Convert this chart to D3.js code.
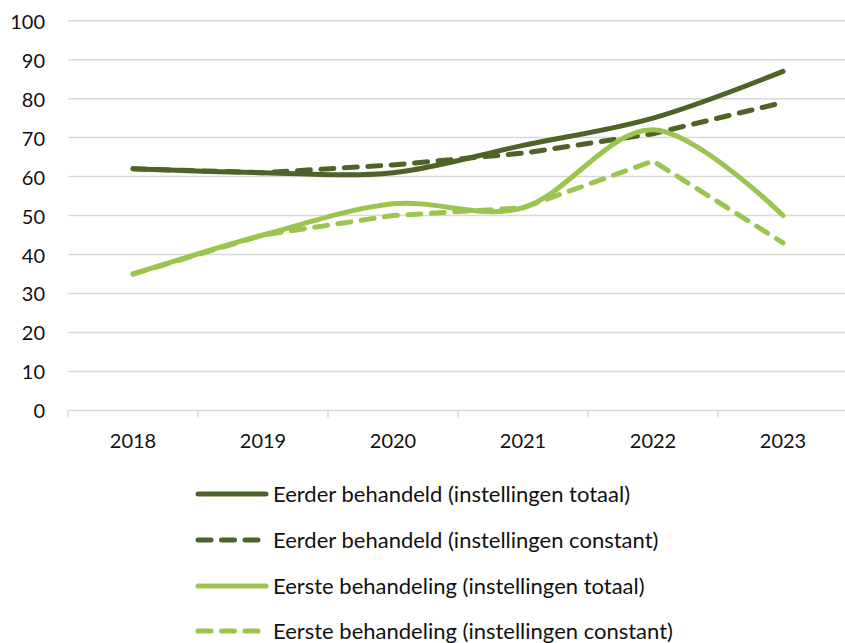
<!DOCTYPE html>
<html>
<head>
<meta charset="utf-8">
<script src="https://cdn.jsdelivr.net/npm/d3@7"></script>
<style>
  html, body { margin: 0; padding: 0; background: #fff; }
  svg { display: block; font-family: Lato, "Open Sans", sans-serif; }
</style>
</head>
<body>
<svg id="chart" width="845" height="643"></svg>
<script>
const years = ["2018", "2019", "2020", "2021", "2022", "2023"];
const yTicks = [0, 10, 20, 30, 40, 50, 60, 70, 80, 90, 100];

const eerderTotaal   = [62, 61, 61, 68, 75, 87];
const eerderConstant = [62, 61, 63, 66, 71, 79];
const eersteTotaal   = [35, 45, 53, 52, 72, 50];
const eersteConstant = [35, 45, 50, 52, 64, 43];

const seriesNames = [
  "Eerder behandeld (instellingen totaal)",
  "Eerder behandeld (instellingen constant)",
  "Eerste behandeling (instellingen totaal)",
  "Eerste behandeling (instellingen constant)"
];

const dark = "#4F6228";
const light = "#9BC54F";

const series = [
  { name: seriesNames[0], values: eerderTotaal,   color: dark,  dashed: false, smooth: true },
  { name: seriesNames[1], values: eerderConstant, color: dark,  dashed: true,  smooth: false },
  { name: seriesNames[2], values: eersteTotaal,   color: light, dashed: false, smooth: true },
  { name: seriesNames[3], values: eersteConstant, color: light, dashed: true,  smooth: false }
];

const svg = d3.select("#chart");
const plotLeft = 68, plotRight = 848, plotTop = 20.7, plotBottom = 410.4;

const x = d3.scaleBand().domain(years).range([plotLeft, plotRight]);
const y = d3.scaleLinear().domain([0, 100]).range([plotBottom, plotTop]);

// horizontal gridlines
svg.append("g")
  .selectAll("line")
  .data(yTicks.filter(d => d > 0))
  .join("line")
  .attr("x1", plotLeft).attr("x2", 850)
  .attr("y1", d => y(d)).attr("y2", d => y(d))
  .attr("stroke", "#d9d9d9").attr("stroke-width", 1.5);

// y-axis labels
svg.append("g")
  .selectAll("text")
  .data(yTicks)
  .join("text")
  .attr("x", 45).attr("y", d => y(d))
  .attr("text-anchor", "end").attr("dominant-baseline", "central")
  .attr("font-size", 20).attr("fill", "#111")
  .text(d => d);

// x axis with category boundary ticks
const xAxis = svg.append("g");
xAxis.append("line")
  .attr("x1", plotLeft).attr("x2", 850)
  .attr("y1", y(0)).attr("y2", y(0))
  .attr("stroke", "#d9d9d9").attr("stroke-width", 1.5);
const bounds = years.map(d => x(d)).concat([plotRight]);
xAxis.selectAll("line.tick")
  .data(bounds)
  .join("line").attr("class", "tick")
  .attr("x1", d => d).attr("x2", d => d)
  .attr("y1", y(0)).attr("y2", y(0) + 7)
  .attr("stroke", "#d9d9d9").attr("stroke-width", 1.5);
xAxis.selectAll("text")
  .data(years)
  .join("text")
  .attr("x", d => x(d) + x.bandwidth() / 2)
  .attr("y", 440)
  .attr("text-anchor", "middle").attr("dominant-baseline", "central")
  .attr("font-size", 20).attr("fill", "#111")
  .text(d => d);

// series lines
const cx = d => x(d) + x.bandwidth() / 2;
series.forEach(s => {
  const line = d3.line()
    .x((v, i) => cx(years[i]))
    .y(v => y(v))
    .curve(s.smooth ? d3.curveCatmullRom.alpha(0) : d3.curveLinear);
  svg.append("path")
    .attr("d", line(s.values))
    .attr("fill", "none")
    .attr("stroke", s.color)
    .attr("stroke-width", 5)
    .attr("stroke-linecap", "round")
    .attr("stroke-linejoin", "round")
    .attr("stroke-dasharray", s.dashed ? "13,10.5" : null);
});

// legend
const legend = svg.append("g");
const rows = [494, 540, 586, 631];
series.forEach((s, i) => {
  const g = legend.append("g").attr("transform", `translate(0,${rows[i]})`);
  g.append("line")
    .attr("x1", 198).attr("x2", s.dashed ? 262 : 266)
    .attr("y1", 0).attr("y2", 0)
    .attr("stroke", s.color).attr("stroke-width", 5)
    .attr("stroke-linecap", "round")
    .attr("stroke-dasharray", s.dashed ? "13,10.5" : null);
  g.append("text")
    .attr("x", 273).attr("y", -1)
    .attr("dominant-baseline", "central")
    .attr("font-size", 22).attr("fill", "#111")
    .text(s.name);
});
</script>
</body>
</html>
